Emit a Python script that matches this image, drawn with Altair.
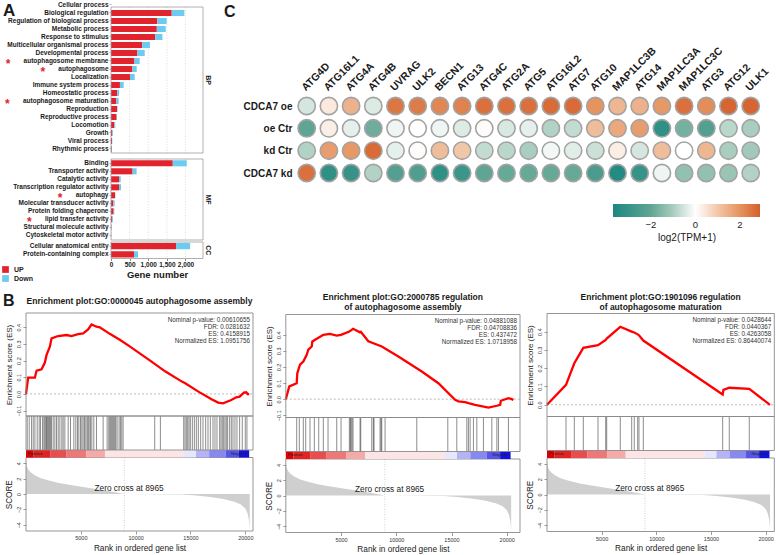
import altair as alt
import pandas as pd

FONT = "Liberation Sans"
W, H = 776, 555
INK = "#1A1A1A"
UP_COLOR = "#E1232D"
DOWN_COLOR = "#6CCBEF"

# ------------------------------------------------------------------ A: GO annotation counts
bp_terms = ["Cellular process", "Biological regulation", "Regulation of biological process",
            "Metabolic process", "Response to stimulus", "Multicellular organismal process",
            "Developmental process", "autophagosome membrane", "autophagosome", "Localization",
            "Immune system process", "Homeostatic process", "autophagosome maturation",
            "Reproduction", "Reproductive process", "Locomotion", "Growth", "Viral process",
            "Rhythmic process"]
bp_up = [0, 1630, 1245, 1230, 1185, 840, 710, 630, 575, 510, 240, 170, 145, 165, 150, 90, 35, 27, 18]
bp_down = [0, 340, 250, 240, 195, 205, 195, 140, 115, 125, 100, 45, 60, 10, 8, 25, 18, 8, 5]

mf_terms = ["Binding", "Transporter activity", "Catalytic activity",
            "Transcription regulator activity", "autophagy", "Molecular transducer activity",
            "Protein folding chaperone", "lipid transfer activity", "Structural molecule activity",
            "Cytoskeletal motor activity"]
mf_up = [1658, 580, 215, 215, 110, 62, 71, 35, 9, 3]
mf_down = [376, 108, 45, 54, 5, 37, 18, 18, 5, 2]

cc_terms = ["Cellular anatomical entity", "Protein-containing complex"]
cc_up = [1747, 618]
cc_down = [377, 108]

starred_terms = ["autophagosome membrane", "autophagosome", "autophagosome maturation",
                 "autophagy", "lipid transfer activity"]
gene_ticks = [0, 500, 1000, 1500, 2000]

# ------------------------------------------------------------------ C: autophagy gene expression
genes = ["ATG4D", "ATG16L1", "ATG4A", "ATG4B", "UVRAG", "ULK2", "BECN1", "ATG13", "ATG4C",
         "ATG2A", "ATG5", "ATG16L2", "ATG7", "ATG10", "MAP1LC3B", "ATG14", "MAP1LC3A",
         "MAP1LC3C", "ATG3", "ATG12", "ULK1"]
conditions = ["CDCA7 oe", "oe Ctr", "kd Ctr", "CDCA7 kd"]
expr_cdca7_oe = [-0.5, 0.4, 1.4, -0.4, 2.5, 2.4, 2.2, 2.3, 2.6, 2.6, 2.6, 2.7, 2.7, 2.0, 1.3,
                 1.4, 1.9, 2.6, 2.1, 2.8, 2.8]
expr_oe_ctr = [-2.0, 0.3, -0.3, -1.8, -0.2, 0.0, -0.2, -0.4, 0.05, -0.45, -0.3, -0.9, -0.7, 1.2,
               1.6, 1.8, -3.2, -1.7, -2.3, -0.8, -1.0]
expr_kd_ctr = [-0.9, 1.8, 1.9, 2.7, -0.3, 0.05, 1.2, 1.0, -0.7, -0.8, -1.0, -0.15, -0.35, -0.6,
               0.3, -0.5, 1.2, 0.0, 1.3, -1.0, -1.1]
expr_cdca7_kd = [2.6, -3.2, -3.0, -0.9, -2.3, -2.4, -3.2, -2.9, -2.0, -1.9, -1.9, -1.9, -1.9,
                 -2.5, -3.5, -3.0, -0.2, -1.3, -1.3, -1.2, -0.9]
legend_ticks = [-2, 0, 2]

# ------------------------------------------------------------------ B: GSEA running scores
left_es_stat = 0.4158915
mid_es_stat = 0.437472
right_es_stat = 0.4263058

left_es_rank = [0, 200, 810, 965, 1420, 1720, 1875, 2175, 2330, 2930, 3700, 4150, 4750, 5210,
                5665, 5975, 6430, 6730, 7640, 8550, 9460, 11220, 12720, 14220, 14520, 15720,
                16920, 17520, 17970, 18720, 19170, 19480, 19870, 20080, 20230, 20350]
left_es = [0.0, 0.098, 0.098, 0.14, 0.148, 0.188, 0.234, 0.283, 0.333, 0.347, 0.353, 0.347,
           0.359, 0.363, 0.387, left_es_stat, 0.403, 0.399, 0.36, 0.325, 0.285, 0.204, 0.134,
           0.074, 0.064, 0.014, -0.032, -0.052, -0.056, -0.036, -0.02, -0.016, 0.008, 0.01,
           -0.002, 0.0]
left_hits = [112, 294, 507, 659, 811, 1023, 1205, 1327, 1509, 1630, 1721, 1812, 1873, 1964,
             2055, 2146, 2237, 2328, 2480, 2632, 2784, 2935, 3087, 3269, 3391, 3543, 3846,
             4059, 4362, 4544, 4696, 4818, 4970, 5091, 5212, 5334, 5455, 5576, 5668, 5758,
             5880, 6002, 6184, 6427, 7034, 7398, 7550, 7641, 7732, 7823, 7914, 8005, 8096,
             8187, 8308, 8490, 8612, 8734, 8855, 11739, 12255, 14380, 14501, 14623, 14744,
             14865, 14987, 15169, 15352, 15534, 15716, 15928, 16141, 16383, 16596, 16809,
             17051, 17233, 17415, 17658, 17780, 17901, 18023, 18144, 18266, 18387, 18569,
             18721, 18872, 19055, 19237, 19480, 19723, 19996, 20148]

mid_es_rank = [0, 317, 987, 1042, 1286, 1585, 1893, 2038, 2346, 2400, 2800, 3400, 4000, 4600,
               5000, 5750, 6090, 6720, 6790, 7470, 8687, 10190, 12310, 13813, 15326, 15625,
               16232, 16531, 17138, 18343, 19104, 19402, 19466, 20154, 20462, 20600]
mid_es = [0.0, 0.079, 0.099, 0.161, 0.214, 0.234, 0.276, 0.307, 0.327, 0.358, 0.375, 0.40,
          0.405, 0.395, 0.40, 0.42, mid_es_stat, 0.415, 0.418, 0.36, 0.327, 0.265, 0.172, 0.099,
          -0.004, -0.014, -0.019, -0.025, -0.035, -0.052, -0.041, -0.035, -0.01, 0.006, 0.0,
          -0.005]
mid_hits = [987, 1223, 1585, 1803, 2192, 2582, 2980, 3397, 3823, 4611, 5000, 5752, 5843, 5906,
            5996, 6087, 6721, 6785, 7781, 7926, 7989, 8533, 8623, 8687, 8986, 11857, 14665,
            15480, 16386, 16531, 16685, 16984, 17292, 17890, 18651, 19104, 19249, 20154]

right_es_rank = [0, 1738, 2497, 3320, 4664, 5368, 5459, 6703, 7746, 7983, 8294, 8413, 8807,
                 16068, 16140, 16672, 18501, 20393]
right_es = [0.0, 0.109, 0.227, 0.311, 0.326, 0.355, 0.362, right_es_stat, 0.40, 0.395, 0.385,
            0.38, 0.351, 0.056, 0.082, 0.093, 0.087, 0.0]
right_hits = [1738, 2497, 3320, 4664, 5368, 5459, 6703, 7746, 7983, 8294, 8413, 8807, 16068,
              16672, 18501]

# ranked-list metric shared by all three enrichment plots
score_rank = [0, 60, 200, 450, 800, 1300, 2000, 3000, 4200, 5500, 6800, 7900, 8965, 14300,
              15500, 16800, 18000, 19000, 19600, 20000, 20200, 20330, 20400]
score_val = [4.3, 3.7, 3.2, 2.8, 2.45, 2.1, 1.8, 1.45, 1.15, 0.85, 0.55, 0.3, 0.0, -0.05, -0.2,
             -0.4, -0.65, -1.0, -1.35, -1.9, -2.5, -3.4, -4.7]
zero_cross = 8965
cbar_edges = [0, 700, 2200, 3700, 5500, 7200, 14400, 15500, 16700, 18200, 19400, 20350]
cbar_metric = [3.0, 2.6, 2.1, 1.6, 1.0, 0.3, -0.3, -0.9, -1.4, -2.0, -2.8]
rank_ticks = [5000, 10000, 15000, 20000]
score_ticks = [-4, -2, 0, 2, 4]
SCORE_DOM = [-4.82, 4.76]

layers = []


def text_at(text, x, y, **kw):
    return alt.Chart(pd.DataFrame({"t": [text]})).mark_text(**kw).encode(
        text="t:N", x=alt.value(x), y=alt.value(y))


# ---------------------------------------------------------------- panel A
GENE_MAX = 2470
A_X0, A_X1 = 111, 203
A_LABEL = 6.5
BOLD_EM = {" ": .278, "a": .556, "b": .611, "c": .556, "e": .556, "f": .333, "g": .611,
           "h": .611, "i": .278, "l": .278, "m": .889, "n": .611, "o": .611, "p": .611,
           "r": .389, "s": .556, "t": .333, "u": .611, "y": .556}


def label_width(s):
    return sum(BOLD_EM.get(ch, 0.6) for ch in s) * A_LABEL


def go_block(terms, up, down, band, frame, strip, legend=None, x_axis=None):
    xsc = alt.Scale(domain=[0, GENE_MAX], range=[A_X0, A_X1], nice=False, zero=False)
    ysc = alt.Scale(type="band", domain=terms, range=list(band), paddingInner=0.24,
                    paddingOuter=0.12)
    usc = alt.Scale(domain=[0, 1], range=list(frame), nice=False, zero=False)
    out = []
    grid = pd.DataFrame({"g": gene_ticks[1:], "f0": 0, "f1": 1})
    out.append(alt.Chart(grid).mark_rule(color="#D4D4D4", strokeDash=[1.2, 1.6],
                                         strokeWidth=0.7).encode(
        x=alt.X("g:Q", scale=xsc, axis=None), y=alt.Y("f0:Q", scale=usc, axis=None), y2="f1:Q"))
    bars = pd.DataFrame({"term": list(terms) * 2,
                         "dir": ["UP"] * len(terms) + ["Down"] * len(terms),
                         "n": list(up) + list(down),
                         "k": [0] * len(terms) + [1] * len(terms)})
    y_axis = alt.Axis(orient="left", offset=-A_X0, labelFontSize=A_LABEL, labelFontWeight="bold",
                      labelColor=INK, tickSize=2, tickColor="#888888", tickWidth=0.6,
                      domain=False, grid=False, labelPadding=1, title=None)
    out.append(alt.Chart(bars).mark_bar().encode(
        x=alt.X("n:Q", scale=xsc, stack="zero", axis=x_axis),
        y=alt.Y("term:N", scale=ysc, axis=y_axis),
        color=alt.Color("dir:N", scale=alt.Scale(domain=["UP", "Down"],
                                                 range=[UP_COLOR, DOWN_COLOR]), legend=legend),
        order=alt.Order("k:Q")))
    box = pd.DataFrame({"a": [0], "b": [GENE_MAX], "c": [0], "d": [1]})
    out.append(alt.Chart(box).mark_rect(fillOpacity=0, stroke="#9C9C9C", strokeWidth=0.8).encode(
        x=alt.X("a:Q", scale=xsc, axis=None), x2="b:Q",
        y=alt.Y("c:Q", scale=usc, axis=None), y2="d:Q"))
    marked = [t for t in terms if t in starred_terms]
    if marked:
        sdf = pd.DataFrame({"term": marked,
                            "sx": [A_X0 - 3 - label_width(t) - 15 for t in marked],
                            "s": ["*"] * len(marked)})
        out.append(alt.Chart(sdf).mark_text(color=UP_COLOR, fontSize=12, fontWeight="bold",
                                            baseline="middle", dy=3).encode(
            x=alt.X("sx:Q", scale=None), y=alt.Y("term:N", scale=ysc, axis=None), text="s:N"))
    sdf = pd.DataFrame({"t": [strip], "m": [0.5]})
    out.append(alt.Chart(sdf).mark_text(angle=90, fontSize=7, fontWeight="bold", color=INK).encode(
        text="t:N", x=alt.value(A_X1 + 5), y=alt.Y("m:Q", scale=usc, axis=None)))
    return out


updown_legend = alt.Legend(orient="none", legendX=2, legendY=266, title=None,
                           symbolType="square", symbolSize=45, symbolStrokeWidth=0,
                           labelFontSize=7, labelFontWeight="bold", labelColor=INK,
                           rowPadding=1, labelOffset=5, direction="vertical", padding=0)
gene_axis = alt.Axis(orient="bottom", offset=258.5 - H, values=gene_ticks, format=",d",
                     labelFontSize=6.5, labelFontWeight="bold", labelColor=INK, tickSize=2,
                     tickColor="#888888", domain=False, grid=False, labelFlush=False,
                     labelPadding=1, title="Gene number", titleFontSize=9.5,
                     titleFontWeight="bold", titleColor=INK, titlePadding=1)

layers += go_block(bp_terms, bp_up, bp_down, (1, 153), (7, 153), "BP", legend=updown_legend)
layers += go_block(mf_terms, mf_up, mf_down, (159.3, 239.3), (159, 240), "MF")
layers += go_block(cc_terms, cc_up, cc_down, (242, 258.5), (242, 258.5), "CC", x_axis=gene_axis)

# ---------------------------------------------------------------- panel C
hm_rows = []
for cond, vals in zip(conditions, [expr_cdca7_oe, expr_oe_ctr, expr_kd_ctr, expr_cdca7_kd]):
    for g, v in zip(genes, vals):
        hm_rows.append({"gene": g, "cond": cond, "v": v})

layers.append(alt.Chart(pd.DataFrame(hm_rows)).mark_circle(
    size=300, opacity=1, stroke="#A3A3A3", strokeWidth=1.6).encode(
    x=alt.X("gene:N", scale=alt.Scale(type="point", domain=genes, range=[306.7, 750.7], padding=0),
            axis=alt.Axis(orient="top", offset=-92, labelAngle=-45, labelAlign="left",
                          labelBaseline="alphabetic", labelFontSize=10.5, labelFontWeight="bold",
                          labelColor=INK, ticks=False, tickSize=0, domain=False, labelPadding=1,
                          labelOffset=-1.5, labelOverlap=False, labelBound=False, title=None)),
    y=alt.Y("cond:N", scale=alt.Scale(type="point", domain=conditions, range=[106, 173], padding=0),
            axis=alt.Axis(orient="left", offset=-294, labelFontSize=10, labelFontWeight="bold",
                          labelColor=INK, ticks=False, tickSize=0, domain=False, labelPadding=2,
                          title=None)),
    color=alt.Color("v:Q", scale=alt.Scale(
        domain=[-3.7, -2, -1, 0, 1, 2, 2.9],
        range=["#1B8780", "#5FA593", "#A9CDBE", "#FFFFFF", "#F2C7A8", "#E5935F", "#D45F2C"],
        interpolate="rgb"),
        legend=alt.Legend(orient="none", legendX=613, legendY=204, direction="horizontal",
                          gradientLength=147, gradientThickness=13, values=legend_ticks,
                          title="log2(TPM+1)", titleOrient="bottom", titleAnchor="middle",
                          titleFontSize=10, titleFontWeight="normal", titleColor=INK,
                          titlePadding=3, labelFontSize=9.5, labelColor="#222222",
                          labelOffset=3, gradientStrokeWidth=0, padding=0))))


# ---------------------------------------------------------------- panel B
def gsea_block(x0, x1, xmax, dy, es_rank, es_val, es_dom, es_ticks, hits, title_lines, stats):
    top, es_bot, hit_bot, bar_bot, sc_bot = 313 + dy, 416 + dy, 450 + dy, 457.5 + dy, 531 + dy
    xsc = alt.Scale(domain=[0, xmax], range=[x0, x1], nice=False, zero=False)
    esc = alt.Scale(domain=es_dom, range=[es_bot, top], nice=False, zero=False)
    ssc = alt.Scale(domain=SCORE_DOM, range=[sc_bot, bar_bot], nice=False, zero=False)
    hsc = alt.Scale(domain=[0, 1], range=[hit_bot, es_bot], nice=False, zero=False)
    csc = alt.Scale(domain=[0, 1], range=[bar_bot, hit_bot], nice=False, zero=False)
    frame_style = dict(fillOpacity=0, stroke="#8A8A8A", strokeWidth=0.9)
    out = []

    # metric area
    sdf = pd.DataFrame({"rank": score_rank, "score": score_val, "zero": 0.0})
    out.append(alt.Chart(sdf).mark_area(color="#CFCFCF", opacity=1).encode(
        x=alt.X("rank:Q", scale=xsc, axis=alt.Axis(
            orient="bottom", offset=sc_bot - H, values=rank_ticks, format="d", labelFontSize=5.5,
            labelColor="#333333", tickSize=3, tickColor="#555555", tickWidth=0.6, domain=False,
            grid=False, labelFlush=False, labelPadding=1.5, title="Rank in ordered gene list",
            titleFontSize=8.3, titleFontWeight="normal", titleColor="#222222", titlePadding=2)),
        y=alt.Y("score:Q", scale=ssc, axis=alt.Axis(
            orient="left", offset=-x0, values=score_ticks, format="d", labelAngle=-90,
            labelAlign="center", labelBaseline="bottom", labelFontSize=5.5, labelColor="#333333",
            tickSize=3, tickColor="#555555", tickWidth=0.6, domain=False, grid=False,
            labelPadding=1.5, title="SCORE", titleFontSize=8.2, titleFontWeight="normal",
            titleColor="#222222", titlePadding=3)),
        y2="zero:Q"))
    zdf = pd.DataFrame({"rank": [zero_cross], "lo": [SCORE_DOM[0]], "hi": [SCORE_DOM[1]]})
    out.append(alt.Chart(zdf).mark_rule(color="#BDBDBD", strokeDash=[1, 1.5], strokeWidth=0.7).encode(
        x=alt.X("rank:Q", scale=xsc, axis=None), y=alt.Y("lo:Q", scale=ssc, axis=None), y2="hi:Q"))
    tdf = pd.DataFrame({"rank": [9400], "score": [0.7], "t": [f"Zero cross at {zero_cross}"]})
    out.append(alt.Chart(tdf).mark_text(fontSize=8.3, color="#222222").encode(
        x=alt.X("rank:Q", scale=xsc, axis=None), y=alt.Y("score:Q", scale=ssc, axis=None),
        text="t:N"))
    box = pd.DataFrame({"a": [0], "b": [xmax], "c": [SCORE_DOM[0]], "d": [SCORE_DOM[1]]})
    out.append(alt.Chart(box).mark_rect(**frame_style).encode(
        x=alt.X("a:Q", scale=xsc, axis=None), x2="b:Q",
        y=alt.Y("c:Q", scale=ssc, axis=None), y2="d:Q"))

    # ranked-list colour bar
    cdf = pd.DataFrame({"s": cbar_edges[:-1], "e": cbar_edges[1:], "m": cbar_metric,
                        "f0": 0, "f1": 1})
    out.append(alt.Chart(cdf).mark_rect().encode(
        x=alt.X("s:Q", scale=xsc, axis=None), x2="e:Q",
        y=alt.Y("f0:Q", scale=csc, axis=None), y2="f1:Q",
        color=alt.Color("m:Q", scale=alt.Scale(domain=[-3, 0, 3],
                                               range=["#0000E0", "#FFFFFF", "#E00000"],
                                               interpolate="rgb"),
                        legend=None)))
    pdf = pd.DataFrame({"rank": [150, 20250], "t": ["Positive", "Negative"]})
    out.append(alt.Chart(pdf.iloc[[0]]).mark_text(fontSize=4.3, color="#222222", align="left").encode(
        x=alt.X("rank:Q", scale=xsc, axis=None), y=alt.value((hit_bot + bar_bot) / 2), text="t:N"))
    out.append(alt.Chart(pdf.iloc[[1]]).mark_text(fontSize=4.3, color="#222222", align="right").encode(
        x=alt.X("rank:Q", scale=xsc, axis=None), y=alt.value((hit_bot + bar_bot) / 2), text="t:N"))

    # gene-set hits
    hdf = pd.DataFrame({"rank": hits, "f0": 0, "f1": 1})
    out.append(alt.Chart(hdf).mark_rule(color="#000000", opacity=0.5, strokeWidth=0.9).encode(
        x=alt.X("rank:Q", scale=xsc, axis=None), y=alt.Y("f0:Q", scale=hsc, axis=None), y2="f1:Q"))
    box = pd.DataFrame({"a": [0], "b": [xmax], "c": [0], "d": [1]})
    out.append(alt.Chart(box).mark_rect(**frame_style).encode(
        x=alt.X("a:Q", scale=xsc, axis=None), x2="b:Q",
        y=alt.Y("c:Q", scale=hsc, axis=None), y2="d:Q"))

    # running enrichment score
    rdf = pd.DataFrame({"a": [0], "b": [xmax], "z": [0.0]})
    out.append(alt.Chart(rdf).mark_rule(color="#ABABAB", strokeDash=[2, 2], strokeWidth=0.8).encode(
        x=alt.X("a:Q", scale=xsc, axis=None), x2="b:Q", y=alt.Y("z:Q", scale=esc, axis=None)))
    edf = pd.DataFrame({"rank": es_rank, "es": es_val})
    out.append(alt.Chart(edf).mark_line(color="#FF0000", strokeWidth=2.3).encode(
        x=alt.X("rank:Q", scale=xsc, axis=None),
        y=alt.Y("es:Q", scale=esc, axis=alt.Axis(
            orient="left", offset=-x0, values=es_ticks, format=".1f", labelAngle=-90,
            labelAlign="center", labelBaseline="bottom", labelFontSize=5.5, labelColor="#333333",
            tickSize=3, tickColor="#555555", tickWidth=0.6, domain=False, grid=False,
            labelPadding=1.5, title="Enrichment score (ES)", titleFontSize=8,
            titleFontWeight="normal", titleColor="#222222", titlePadding=3))))
    box = pd.DataFrame({"a": [0], "b": [xmax], "c": [es_dom[0]], "d": [es_dom[1]]})
    out.append(alt.Chart(box).mark_rect(**frame_style).encode(
        x=alt.X("a:Q", scale=xsc, axis=None), x2="b:Q",
        y=alt.Y("c:Q", scale=esc, axis=None), y2="d:Q"))

    for i, line in enumerate(stats):
        out.append(text_at(line, x1 - 3, top + 6.5 + 7 * i, fontSize=6.3, color="#333333",
                           align="right"))
    cx = (x0 + x1) / 2
    if len(title_lines) == 1:
        out.append(text_at(title_lines[0], cx, 301, fontSize=8.5, fontWeight="bold", color=INK))
    else:
        for i, line in enumerate(title_lines):
            out.append(text_at(line, cx, 297 + 10 * i, fontSize=8.5, fontWeight="bold",
                               color=INK))
    return out


layers += gsea_block(26, 253, 20700, 0, left_es_rank, left_es, [-0.132, 0.485],
                     [-0.1, 0.0, 0.1, 0.2, 0.3, 0.4], left_hits,
                     ["Enrichment plot:GO:0000045 autophagosome assembly"],
                     ["Nominal p-value: 0.00610655", "FDR: 0.0281632",
                      f"ES: {left_es_stat}", "Normalized ES: 1.0951756"])
layers += gsea_block(285.8, 520, 21200, 1.5, mid_es_rank, mid_es, [-0.114, 0.526],
                     [-0.1, 0.0, 0.1, 0.2, 0.3, 0.4], mid_hits,
                     ["Enrichment plot:GO:2000785 regulation", "of autophagosome assembly"],
                     ["Nominal p-value: 0.04881088", "FDR: 0.04708836",
                      f"ES: {mid_es_stat}", "Normalized ES: 1.0718958"])
layers += gsea_block(547, 774.3, 20790, 0.5, right_es_rank, right_es, [-0.064, 0.499],
                     [0.0, 0.1, 0.2, 0.3, 0.4], right_hits,
                     ["Enrichment plot:GO:1901096 regulation", "of autophagosome maturation"],
                     ["Nominal p-value: 0.0428644", "FDR: 0.0440367",
                      f"ES: {right_es_stat}", "Normalized ES: 0.86440074"])

# panel letters
layers.append(text_at("A", 3, 3, fontSize=17, fontWeight="bold", color=INK, align="left",
                      baseline="top"))
layers.append(text_at("B", 3, 293, fontSize=16, fontWeight="bold", color=INK, align="left",
                      baseline="top"))
layers.append(text_at("C", 224, 4, fontSize=16, fontWeight="bold", color=INK, align="left",
                      baseline="top"))

chart = alt.layer(*layers).properties(
    width=W, height=H, padding=0, autosize=alt.AutoSizeParams(type="none")
).resolve_scale(
    x="independent", y="independent", color="independent"
).configure_view(stroke=None).configure_axis(
    labelFont=FONT, titleFont=FONT
).configure_legend(labelFont=FONT, titleFont=FONT).configure_text(font=FONT)

chart.save("out.html", embed_options={"renderer": "svg", "actions": False})
